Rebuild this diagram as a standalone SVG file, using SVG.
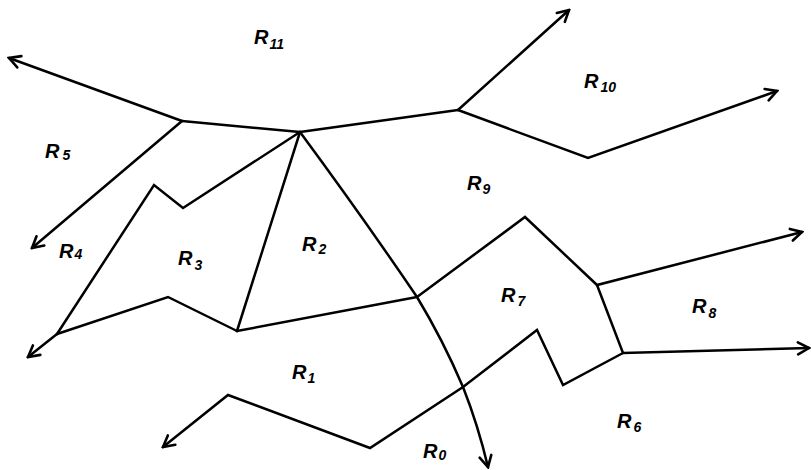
<svg xmlns="http://www.w3.org/2000/svg" width="811" height="470" viewBox="0 0 811 470">
<style>
.e{fill:none;stroke:#000;stroke-width:2.5;stroke-linejoin:miter;stroke-linecap:round}
.a{marker-end:url(#arr)}
.l{font-family:"Liberation Sans",Arial,sans-serif;font-style:italic;font-weight:bold;font-size:20px;fill:#000}
.s{font-size:14px}
</style>
<defs>
<marker id="arr" markerUnits="userSpaceOnUse" viewBox="-13 -8 15 16" markerWidth="15" markerHeight="16" refX="0" refY="0" orient="auto">
<path d="M-11,-6 L0,0 L-11,6" fill="none" stroke="#000" stroke-width="2.6" stroke-linecap="round" stroke-linejoin="miter"/>
</marker>
</defs>
<rect width="811" height="470" fill="#fff"/>
<g id="connectors">
<path class="e a" d="M182,121 L9,58"/>
<path class="e" d="M182,121 L300,132"/>
<path class="e a" d="M182,121 L32,248"/>
<path class="e" d="M300,132 L458,110"/>
<path class="e a" d="M458,110 L569,10"/>
<path class="e a" d="M458,110 L588,158 L777,91"/>
<path class="e" d="M300,132 L183,208 L154,185 L57,334"/>
<path class="e a" d="M57,334 L28,357"/>
<path class="e" d="M57,334 L168,297 L237,331"/>
<path class="e" d="M237,331 L300,132"/>
<path class="e" d="M237,331 L417,297"/>
<path class="e a" d="M300,132 Q362,216 417,297 Q443,340 463,387 Q478,425 488,467"/>
<path class="e a" d="M417,297 L525,217 L597,285 L802,232"/>
<path class="e a" d="M597,285 L623,353 L809,348"/>
<path class="e a" d="M623,353 L563,385 L537,330 L463,387 L370,448 L228,395 L163,447"/>
</g>
<g id="R11"><text class="l" x="254" y="44">R<tspan class="s" dx="1" dy="5">11</tspan></text></g>
<g id="R10"><text class="l" x="584" y="88">R<tspan class="s" dx="2" dy="4">10</tspan></text></g>
<g id="R5"><text class="l" x="45" y="158">R<tspan class="s" dx="3" dy="2">5</tspan></text></g>
<g id="R9"><text class="l" x="467" y="190">R<tspan class="s" dx="1" dy="4">9</tspan></text></g>
<g id="R4"><text class="l" x="59" y="258">R<tspan class="s" dx="1" dy="1">4</tspan></text></g>
<g id="R3"><text class="l" x="178" y="265">R<tspan class="s" dx="2" dy="5">3</tspan></text></g>
<g id="R2"><text class="l" x="302" y="251">R<tspan class="s" dx="2" dy="3">2</tspan></text></g>
<g id="R1"><text class="l" x="292" y="379">R<tspan class="s" dx="1" dy="4">1</tspan></text></g>
<g id="R7"><text class="l" x="501" y="302">R<tspan class="s" dx="2" dy="4">7</tspan></text></g>
<g id="R8"><text class="l" x="692" y="313">R<tspan class="s" dx="2" dy="5">8</tspan></text></g>
<g id="R6"><text class="l" x="617" y="428">R<tspan class="s" dx="2" dy="4">6</tspan></text></g>
<g id="R0"><text class="l" x="423" y="458">R<tspan class="s" dx="1" dy="2">0</tspan></text></g>
</svg>
